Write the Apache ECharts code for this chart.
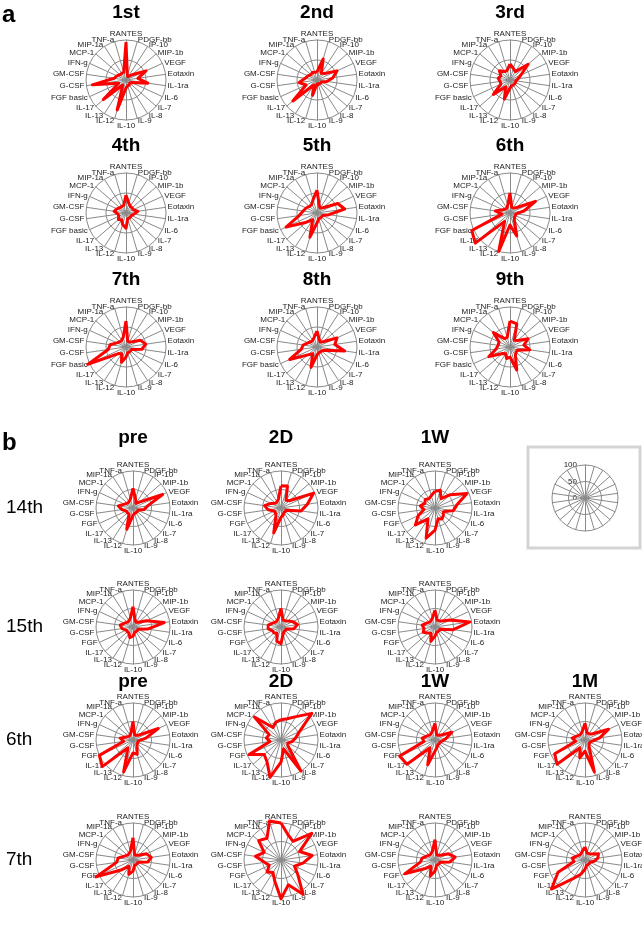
<!DOCTYPE html>
<html><head><meta charset="utf-8">
<script src="https://cdn.jsdelivr.net/npm/echarts@6/dist/echarts.min.js"></script>
<style>html,body{margin:0;padding:0;background:#fff}#c{width:642px;height:944px}</style>
</head><body><div id="c"></div>
<script>
// ---- indicators (clockwise from top) ----
const cytokinesA = ['RANTES','PDGF-bb','IP-10','MIP-1b','VEGF','Eotaxin','IL-1ra','IL-6','IL-7','IL-8','IL-9','IL-10','IL-12','IL-13','IL-17','FGF basic','G-CSF','GM-CSF','IFN-g','MCP-1','MIP-1a','TNF-a'];
const cytokinesB = ['RANTES','PDGF-bb','IP-10','MIP-1b','VEGF','Eotaxin','IL-1ra','IL-6','IL-7','IL-8','IL-9','IL-10','IL-12','IL-13','IL-17','FGF','G-CSF','GM-CSF','IFN-g','MCP-1','MIP-1a','TNF-a'];
const scaleTicks = ['0','50','100'];
const panelATitles = ['1st','2nd','3rd','4th','5th','6th','7th','8th','9th'];
const panelBCols = ['pre','2D','1W','1M'];
const panelBRows = ['14th','15th','6th','7th'];

// ---- panel a values (0-100 scale) ----
const a1st = [95,12,10,20,55,30,55,15,12,15,15,20,78,15,75,20,85,30,25,20,20,20];
const a2nd = [20,55,20,25,55,40,25,12,12,10,12,10,40,15,80,30,45,30,25,20,22,20];
const a3rd = [40,30,25,60,30,20,15,15,15,15,15,20,50,20,55,25,25,30,25,35,25,25];
const a4th = [45,25,20,20,20,30,20,15,15,15,15,38,30,20,25,20,20,30,25,20,20,20];
const a5th = [57,20,15,20,57,70,30,15,15,15,15,25,63,20,35,85,45,35,30,25,25,35];
const a6th = [50,15,15,20,70,35,15,15,15,20,60,30,100,25,115,105,20,37,20,15,15,20];
const a7th = [65,15,15,20,40,50,40,15,15,15,15,25,40,20,25,105,45,40,25,20,20,25];
const a8th = [40,20,15,20,55,45,70,20,15,15,15,20,53,20,30,75,40,35,25,20,20,25];
const a9th = [65,60,20,25,50,35,50,20,20,25,60,25,30,20,25,58,35,30,30,55,25,25];

// ---- panel b values ----
const b14pre = [53,25,15,25,88,40,30,15,15,15,15,20,60,20,20,20,30,40,25,20,20,25];
const b14_2D = [60,62,25,30,97,72,55,15,15,15,20,25,70,25,20,20,35,45,30,20,20,25];
const b14_1W = [45,50,30,55,95,60,50,25,30,35,30,60,85,35,70,50,30,40,30,35,30,35];
const b15pre = [55,20,15,20,40,85,40,15,15,15,15,25,30,20,20,20,30,35,25,20,20,25];
const b15_2D = [50,20,20,25,35,45,35,15,15,15,20,45,40,20,25,25,35,35,25,20,20,25];
const b15_1W = [45,20,20,25,45,95,50,15,15,15,15,25,40,20,25,35,30,35,25,20,20,25];
const b6pre  = [50,15,15,20,75,35,15,15,15,20,40,35,90,25,110,100,25,35,20,15,15,20];
const b6_2D  = [55,60,75,110,55,40,30,20,25,100,25,60,105,70,60,95,30,40,35,95,40,50];
const b6_1W  = [45,15,15,20,50,30,20,15,15,15,20,30,70,25,100,105,30,35,25,20,20,25];
const b6_1M  = [45,20,20,25,70,40,20,15,15,20,90,30,50,25,100,90,25,35,25,20,20,25];
const b7pre  = [60,15,15,20,40,50,40,15,15,15,15,30,40,20,40,110,45,40,25,20,20,25];
const b7_2D  = [100,70,60,110,55,85,60,40,60,110,70,105,60,40,50,35,45,70,50,80,70,110];
const b7_1W  = [55,15,15,20,40,55,40,15,15,15,15,30,45,20,35,90,40,35,25,20,20,25];
const b7_1M  = [35,20,20,25,40,35,25,15,15,15,15,25,40,60,120,80,30,35,25,20,20,25];

// ---- layout ----
const aCols = [126, 317, 510];
const aRows = [80, 213, 347];
const aRadius = 40;
const bCols = [133, 281, 435, 585];
const bRows = [508, 627, 740, 860];
const bRadius = 37;
const legendC = [585, 498], legendR = 33;

const panels = [];
const aData = [a1st,a2nd,a3rd,a4th,a5th,a6th,a7th,a8th,a9th];
aData.forEach((d, i) => panels.push({names: cytokinesA, data: d, cx: aCols[i % 3], cy: aRows[Math.floor(i / 3)], r: aRadius}));
const bGrid = [
  [b14pre, b14_2D, b14_1W, null],
  [b15pre, b15_2D, b15_1W, null],
  [b6pre, b6_2D, b6_1W, b6_1M],
  [b7pre, b7_2D, b7_1W, b7_1M]
];
bGrid.forEach((row, ri) => row.forEach((d, ci) => {
  if (d) panels.push({names: cytokinesB, data: d, cx: bCols[ci], cy: bRows[ri], r: bRadius});
}));

// ECharts radar runs counter-clockwise; reorder so that the display runs clockwise
const cw = arr => [arr[0]].concat(arr.slice(1).reverse());

const gridColor = '#8a8a8a';
const font = 'Liberation Sans, Arial, sans-serif';
const radars = [], series = [];
panels.forEach((p, i) => {
  radars.push({
    center: [p.cx, p.cy], radius: p.r, shape: 'circle', splitNumber: 2, startAngle: 90,
    indicator: cw(p.names).map(n => ({name: n, min: 0, max: 100})),
    axisName: {color: '#222', fontSize: 8, fontFamily: font},
    nameGap: 2,
    splitLine: {lineStyle: {color: gridColor, width: 1}},
    splitArea: {show: false},
    axisLine: {lineStyle: {color: gridColor, width: 1}},
    axisTick: {show: false}, axisLabel: {show: false}
  });
  series.push({
    type: 'radar', radarIndex: i, symbol: 'none', silent: true,
    lineStyle: {color: '#ff0000', width: 3, join: 'round'},
    data: [{value: cw(p.data)}]
  });
});
// legend radar (scale key)
radars.push({
  center: legendC, radius: legendR, shape: 'circle', splitNumber: 2, startAngle: 90,
  indicator: cytokinesA.map(() => ({name: '', min: 0, max: 100})),
  axisName: {show: false},
  splitLine: {lineStyle: {color: gridColor, width: 1}},
  splitArea: {show: false},
  axisLine: {lineStyle: {color: gridColor, width: 1}},
  axisTick: {show: false}, axisLabel: {show: false}
});

const graphic = [];
const txt = (x, y, s, size, bold, align) => graphic.push({
  type: 'text', x: x, y: y,
  style: {text: s, font: (bold ? 'bold ' : '') + size + 'px ' + font, fill: '#000', textAlign: align || 'center', textVerticalAlign: 'middle'}
});
txt(2, 15, 'a', 24, true, 'left');
panelATitles.forEach((t, i) => txt(aCols[i % 3], aRows[Math.floor(i / 3)] - 67, t, 19, true));
txt(2, 443, 'b', 24, true, 'left');
panelBCols.slice(0, 3).forEach((t, i) => txt(bCols[i], bRows[0] - 70, t, 19, true));
panelBCols.forEach((t, i) => txt(bCols[i], bRows[2] - 58, t, 19, true));
panelBRows.forEach((t, i) => txt(6, bRows[i], t, 19, false, 'left'));
// legend box and scale labels
graphic.push({type: 'rect', shape: {x: 528, y: 447, width: 112, height: 101}, style: {fill: 'none', stroke: '#d4d4d4', lineWidth: 3}});
scaleTicks.forEach((t, k) => graphic.push({
  type: 'text', x: legendC[0] - 8, y: legendC[1] - legendR * k / 2,
  style: {text: t, font: '8px ' + font, fill: '#222', textAlign: 'right', textVerticalAlign: 'middle'}
}));

const chart = echarts.init(document.getElementById('c'), null, {renderer: 'canvas'});
chart.setOption({animation: false, backgroundColor: '#fff', radar: radars, series: series, graphic: graphic});
</script></body></html>
